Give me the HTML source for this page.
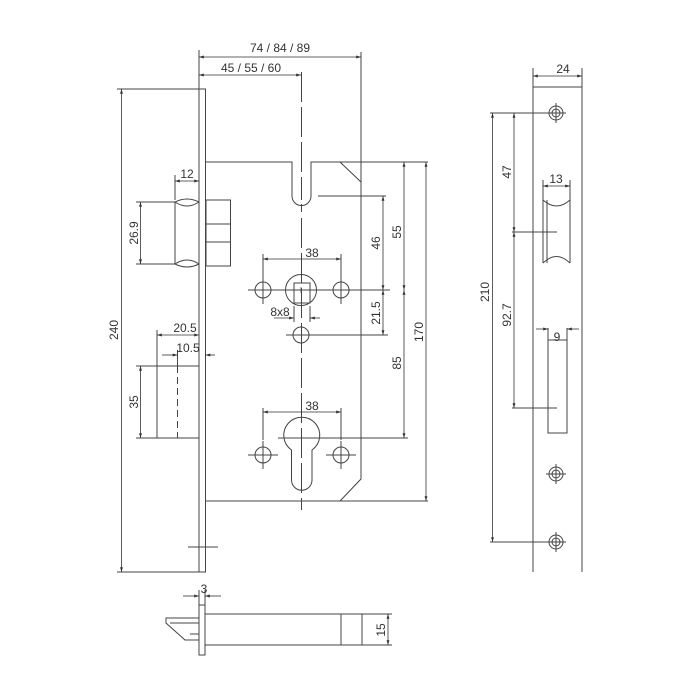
<!DOCTYPE html>
<html><head><meta charset="utf-8"><style>
html,body{margin:0;padding:0;background:#fff}
svg{display:block}
text{font-family:"Liberation Sans",sans-serif;font-size:12px;fill:#333}
</style></head><body>
<svg width="700" height="700" viewBox="0 0 700 700" xmlns="http://www.w3.org/2000/svg">
<defs>
<marker id="a" viewBox="0 0 10 10" refX="10" refY="5" markerWidth="6" markerHeight="6" orient="auto-start-reverse"><path d="M0,2 L10,5 L0,8z" fill="#333"/></marker>
</defs>
<g fill="none" stroke="#444" stroke-width="1">
<rect x="199" y="89" width="6.5" height="483"/>
<path d="M205.5,162 H292 V196 M311,196 V162 H428"/>
<path d="M292,196 A9.5,9.5 0 0 0 311,196"/>
<path d="M340,162 L361,182"/>
<path d="M361,52 V479 L340,501"/>
<path d="M205.5,501 H428"/>
<path d="M301.5,72 V200 M301.5,204 V212 M301.5,218 V510" stroke-dasharray="30,5"/>
<circle cx="301" cy="290" r="15.5"/>
<rect x="294" y="283" width="16" height="20"/>
<path d="M298,290 h6 M301,287 v6" stroke-width="0.7"/>
<circle cx="263" cy="290" r="8"/>
<circle cx="341" cy="290" r="8"/>
<path d="M248,290 H390 M263,276 V304 M341,276 V304"/>
<path d="M263,254 V282 M341,254 V282"/>
<circle cx="301" cy="335" r="8"/>
<path d="M286,335 H388"/>
<path d="M294,306 V322 M310,306 V322"/>
<path d="M291.5,450 A18,18 0 1 1 312,450 V480 A10.25,10.25 0 0 1 291.5,480 Z"/>
<circle cx="263" cy="455" r="8"/>
<circle cx="341" cy="455" r="8"/>
<path d="M248,455 H278 M326,455 H356 M263,441 V469 M341,441 V469"/>
<path d="M263,408 V440 M341,408 V440"/>
<path d="M278,438 H408"/>
<path d="M175,202 V264 M199,202 V264"/>
<path d="M175,202 Q187,196 199,202 M175,202 Q187,210 199,202"/>
<path d="M175,264 Q187,256 199,264 M175,264 Q187,270 199,264"/>
<rect x="206" y="200" width="24.5" height="66"/>
<path d="M206,224 H230.5 M206,242 H230.5"/>
<path d="M175,175 V200 M199,175 V200"/>
<path d="M136,202 H175 M136,264 H175"/>
<rect x="157" y="366" width="42" height="72"/>
<path d="M177.5,366 V438" stroke-dasharray="7,4"/>
<path d="M157,330 V366 M177.5,350 V366"/>
<path d="M136,366 H157 M136,438 H157"/>
<path d="M188,547 H218"/>
<path d="M117,89 H199 M117,572 H199"/>
<path d="M199,50 V89"/>
<path d="M318,196 H386"/>
<path d="M533,87 V572 M582,87 V572 M533,87 H582"/>
<path d="M533,68 V87 M582,68 V87"/>
<g>
<circle cx="556" cy="113" r="7"/><circle cx="556" cy="113" r="4"/><path d="M546,113 H566 M556,103 V123"/>
<circle cx="556" cy="474" r="7"/><circle cx="556" cy="474" r="4"/><path d="M546,474 H566 M556,464 V484"/>
<circle cx="556" cy="542" r="7"/><circle cx="556" cy="542" r="4"/><path d="M546,542 H566 M556,532 V552"/>
</g>
<path d="M543,200 V263 M570,200 V263 M547,200 V263"/>
<path d="M543,200 Q556.5,212 570,200 M543,263 Q556.5,250 570,263"/>
<path d="M543,180 V200 M570,180 V200"/>
<rect x="548" y="340" width="19" height="93"/>
<path d="M548,328 V340 M567,328 V340"/>
<path d="M490,113 H550 M490,542 H550"/>
<path d="M512,232 H557 M512,408 H557"/>
<rect x="199" y="605" width="6" height="50"/>
<rect x="205" y="614" width="157" height="31"/>
<path d="M341,614 V645"/>
<path d="M199,618 H166 V623 L185,640 H199 M170,623 H199 M190,634 H199"/>
<path d="M199,590 V605 M205,590 V605"/>
<path d="M362,614 H392 M362,645 H392"/>
</g>
<g fill="none" stroke="#333" stroke-width="0.8" marker-start="url(#a)" marker-end="url(#a)">
<path d="M199,57 H361"/>
<path d="M199,75 H301"/>
<path d="M121.5,89 V572"/>
<path d="M175,181 H199"/>
<path d="M140.5,202 V264"/>
<path d="M157,335 H199"/>
<path d="M140.5,366 V438"/>
<path d="M263,259 H341"/>
<path d="M263,412 H341"/>
<path d="M383,196 V290"/>
<path d="M383,290 V335"/>
<path d="M404,162 V290"/>
<path d="M404,290 V438"/>
<path d="M426,162 V501"/>
<path d="M533,76 H582"/>
<path d="M543,186 H570"/>
<path d="M492.5,113 V542"/>
<path d="M514,113 V232"/>
<path d="M514,232 V408"/>
<path d="M388,614 V645"/>
</g>
<g fill="none" stroke="#333" stroke-width="0.8" marker-end="url(#a)">
<path d="M162,355 H177.5"/>
<path d="M215,355 H205.5"/>
<path d="M274,318 H294"/>
<path d="M320,318 H310"/>
<path d="M536,329 H548"/>
<path d="M579,329 H567"/>
<path d="M183,596 H199"/>
<path d="M221,596 H205"/>
</g>
<text x="280" y="52" text-anchor="middle" font-size="12.5">74 / 84 / 89</text>
<text x="251" y="72" text-anchor="middle" font-size="12.5">45 / 55 / 60</text>
<text x="187" y="178" text-anchor="middle">12</text>
<text x="185" y="332" text-anchor="middle">20.5</text>
<text x="188" y="352" text-anchor="middle">10.5</text>
<text x="312" y="257" text-anchor="middle">38</text>
<text x="312" y="410" text-anchor="middle">38</text>
<text x="280" y="316" text-anchor="middle">8x8</text>
<text x="563" y="73" text-anchor="middle">24</text>
<text x="556" y="183" text-anchor="middle">13</text>
<text x="557" y="341" text-anchor="middle">9</text>
<text x="204" y="593" text-anchor="middle">3</text>
<text transform="translate(118,330) rotate(-90)" text-anchor="middle">240</text>
<text transform="translate(138,233) rotate(-90)" text-anchor="middle">26.9</text>
<text transform="translate(138,402) rotate(-90)" text-anchor="middle">35</text>
<text transform="translate(380,243) rotate(-90)" text-anchor="middle">46</text>
<text transform="translate(401,232) rotate(-90)" text-anchor="middle">55</text>
<text transform="translate(380,313) rotate(-90)" text-anchor="middle">21.5</text>
<text transform="translate(401,363) rotate(-90)" text-anchor="middle">85</text>
<text transform="translate(423,332) rotate(-90)" text-anchor="middle">170</text>
<text transform="translate(489,292) rotate(-90)" text-anchor="middle">210</text>
<text transform="translate(511,172) rotate(-90)" text-anchor="middle">47</text>
<text transform="translate(511,315) rotate(-90)" text-anchor="middle">92.7</text>
<text transform="translate(385,630) rotate(-90)" text-anchor="middle">15</text>
</svg>
</body></html>
